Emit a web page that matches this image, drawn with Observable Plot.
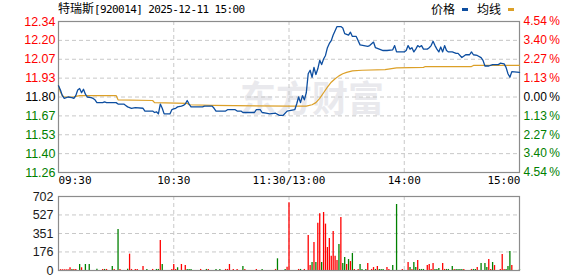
<!DOCTYPE html>
<html><head><meta charset="utf-8">
<script src="https://cdn.jsdelivr.net/npm/d3@7"></script>
<script src="https://cdn.jsdelivr.net/npm/@observablehq/plot@0.6"></script>
<style>
body{margin:0;background:#fff;}
#wrap{position:relative;width:578px;height:276px;overflow:hidden;background:#fff;}
#title{position:absolute;left:58px;top:0;height:16px;line-height:16px;font-size:12px;color:#000;white-space:nowrap;}
#title .cjk{font-family:"Noto Sans CJK SC";font-size:12px;}
#title .mono{font-family:"DejaVu Sans Mono";font-size:11px;letter-spacing:-0.6px;}
#legend{position:absolute;left:431px;top:0;height:18px;line-height:18px;font-family:"Noto Sans CJK SC";font-size:12px;color:#000;white-space:nowrap;}
#legend i{display:inline-block;width:6px;height:3px;vertical-align:middle;margin:0 9px 2px 7px;}
#wm{position:absolute;left:240px;top:78px;line-height:36px;font-family:"Noto Sans CJK SC";font-weight:700;font-size:36px;color:#e9e9ed;white-space:nowrap;}
#p1{position:absolute;left:0;top:0;}
#p2{position:absolute;left:0;top:190px;}
</style></head>
<body><div id="wrap">
<div id="wm">东方财富</div>
<div id="title"><span class="cjk">特瑞斯</span><span class="mono">[920014] 2025-12-11 15:00</span></div>
<div id="legend">价格<i style="background:#0d4ea0"></i>均线<i style="background:#dca028"></i></div>
<div id="p1"></div>
<div id="p2"></div>
</div>
<script>
const prevClose = 11.80;
const minuteTickVals = [0, 60, 120, 180, 240];
const minuteTickLabels = ["09:30", "10:30", "11:30/13:00", "14:00", "15:00"];
const priceTickVals = [12.336, 12.202, 12.068, 11.934, 11.80, 11.666, 11.532, 11.398, 11.264];
const priceTickLabels = ["12.34", "12.20", "12.07", "11.93", "11.80", "11.67", "11.53", "11.40", "11.26"];
const pctTickLabels = ["4.54", "3.40", "2.27", "1.13", "0.00", "1.13", "2.27", "3.40", "4.54"];
const volTickVals = [0, 176, 351, 527, 702];
const volTickLabels = ["0", "176", "351", "527", "702"];

const priceMin = [0,1,2,3,5,7,8,9,10,11,12,13,14,15,17,18,19,20,23,24,25,30,31,34,35,36,38,40,44,45,49,50,51,52,53,54,55,58,59,60,61,62,64,65,66,67,68,69,75,76,80,81,82,87,88,92,93,95,96,102,103,105,106,108,110,113,115,117,119,123,124,125,126,127,128,129,130,131,132,133,134,135,136,137,138,139,140,141,142,143,144,145,147,148,149,151,152,153,155,157,159,161,162,164,165,167,169,171,174,175,176,180,181,182,183,184,185,186,187,188,189,190,192,193,194,195,196,197,198,199,200,201,202,203,205,207,208,210,212,214,215,216,218,220,221,222,224,226,229,230,232,233,234,235,236,240];
const priceVal = [11.88,11.85,11.81,11.79,11.80,11.795,11.79,11.81,11.85,11.86,11.83,11.855,11.82,11.80,11.795,11.79,11.78,11.76,11.76,11.765,11.76,11.76,11.75,11.75,11.74,11.73,11.72,11.725,11.72,11.70,11.70,11.69,11.695,11.68,11.75,11.72,11.68,11.68,11.71,11.715,11.72,11.73,11.735,11.74,11.75,11.775,11.75,11.73,11.73,11.735,11.735,11.72,11.70,11.70,11.71,11.71,11.70,11.70,11.69,11.69,11.71,11.71,11.69,11.685,11.68,11.685,11.67,11.67,11.70,11.71,11.75,11.80,11.76,11.81,11.78,11.83,11.965,11.99,11.94,12.01,11.96,12.00,12.06,12.03,12.07,12.095,12.15,12.18,12.20,12.24,12.27,12.30,12.30,12.29,12.25,12.24,12.26,12.23,12.23,12.17,12.165,12.16,12.165,12.19,12.15,12.14,12.13,12.13,12.135,12.165,12.12,12.12,12.13,12.165,12.14,12.15,12.12,12.14,12.165,12.155,12.165,12.14,12.14,12.15,12.165,12.196,12.165,12.14,12.12,12.155,12.12,12.165,12.13,12.12,12.12,12.11,12.11,12.08,12.10,12.10,12.12,12.10,12.095,12.08,12.06,12.02,12.02,12.03,12.03,12.04,12.035,12.01,11.965,11.94,11.98,11.975];

const avgMin = [0,1,2,3,8,9,11,30,31,49,50,67,68,80,120,129,132,134,136,138,140,142,144,146,148,150,153,158,170,176,190,191,215,216,240];
const avgVal = [11.88,11.835,11.81,11.80,11.80,11.805,11.81,11.81,11.78,11.775,11.76,11.755,11.745,11.74,11.735,11.735,11.745,11.76,11.79,11.83,11.87,11.905,11.93,11.95,11.965,11.975,11.985,11.99,11.995,12.007,12.01,12.016,12.016,12.024,12.024];

const volMin = [1,2,3,4,5,6,7,8,9,11,12,14,16,20,23,24,25,28,29,31,32,36,37,38,40,41,44,46,49,51,52,53,54,59,60,61,62,64,66,67,68,69,74,77,78,82,84,87,88,89,91,93,96,97,103,106,113,114,118,119,120,125,126,128,130,131,132,133,134,135,136,137,138,139,140,141,142,143,144,145,146,147,148,149,150,151,152,153,154,156,157,158,160,161,163,164,165,166,167,168,169,171,172,174,176,179,182,183,184,185,186,187,188,189,190,192,193,194,195,196,197,198,200,201,202,203,205,206,207,208,209,210,211,215,216,217,218,220,222,223,224,225,226,227,230,231,232,233,234,235,236,240];
const volVal = [8,8,8,8,8,26,10,10,10,57,26,57,57,12,10,10,10,38,10,389,10,12,155,10,10,10,38,10,10,10,10,285,57,10,57,10,26,57,47,10,10,10,10,10,10,10,10,10,10,57,10,10,38,10,10,10,10,111,10,30,642,10,10,10,332,47,76,266,76,449,538,76,550,440,218,304,136,370,136,95,247,503,66,123,57,104,85,161,10,10,57,10,10,66,10,28,10,38,10,10,10,28,10,47,626,10,76,28,10,76,28,95,10,10,10,47,57,10,66,10,10,20,66,10,10,10,38,10,10,10,10,10,10,10,10,10,28,66,66,28,104,10,76,47,10,152,10,10,38,180,47,10,10];
const volUp = [1,1,1,1,1,1,0,1,1,0,1,0,0,0,1,0,1,0,1,0,1,0,1,1,1,1,1,0,1,0,0,1,0,1,1,1,0,1,1,0,0,0,1,0,1,0,0,1,1,1,1,1,0,1,1,0,1,0,0,1,1,1,0,1,1,1,0,1,0,1,1,0,1,1,1,1,1,1,1,1,0,1,0,0,1,0,1,0,1,1,0,0,0,1,1,1,0,1,0,0,0,1,1,0,0,1,1,0,1,0,0,1,0,0,0,1,1,1,1,0,0,0,1,1,0,0,0,1,0,0,0,0,1,1,0,0,1,0,0,0,1,1,0,1,1,1,1,0,0,0,1,0];

const RED = "#ff0000", GREEN = "#008000", BLACK = "#000000";
const tickColor = v => Math.abs(v - prevClose) < 1e-6 ? BLACK : (v > prevClose ? RED : GREEN);

const price = priceMin.map((m, i) => ({m, v: priceVal[i]}));
const avg = avgMin.map((m, i) => ({m, v: avgVal[i]}));
const vol = volMin.map((m, i) => ({m, v: volVal[i], c: volUp[i] ? RED : GREEN}));
const pTicks = priceTickVals.map((v, i) => ({v, label: priceTickLabels[i], pct: pctTickLabels[i] + "\u2009%", c: tickColor(v)}));
const tTicks = minuteTickVals.map((m, i) => ({m, label: minuteTickLabels[i]}));
const vTicks = volTickVals.map((v, i) => ({v, label: volTickLabels[i]}));

const common = {
  width: 578, marginLeft: 58, marginRight: 59,
  x: {domain: [0, 240], axis: null},
  color: {type: "identity"},
  style: {background: "transparent", fontFamily: "Liberation Sans, Arial, sans-serif", fontSize: "12px", overflow: "visible"}
};
const grid = {stroke: "#c8c8c8", strokeDasharray: "4,3", strokeWidth: 1};
const mono = {fontFamily: "DejaVu Sans Mono", fontSize: 11, letterSpacing: -0.6};

const p1 = Plot.plot({
  ...common,
  height: 190, marginTop: 21, marginBottom: 18,
  y: {domain: [11.264, 12.336], axis: null},
  marks: [
    Plot.ruleY(pTicks.slice(1, -1), {y: "v", ...grid}),
    Plot.ruleX(tTicks.slice(1, -1), {x: "m", ...grid}),
    Plot.frame({stroke: "#8c8c8c", strokeWidth: 1.2}),
    Plot.line(avg, {x: "m", y: "v", stroke: "#dca028", strokeWidth: 1.2}),
    Plot.line(price, {x: "m", y: "v", stroke: "#0d4ea0", strokeWidth: 1.3}),
    Plot.text(pTicks, {y: "v", text: "label", fill: "c", frameAnchor: "left", textAnchor: "end", dx: -3, fontSize: 12.5}),
    Plot.text(pTicks, {y: "v", text: "pct", fill: "c", frameAnchor: "right", textAnchor: "start", dx: 4, fontSize: 12}),
    Plot.text(tTicks.slice(0, 1), {x: "m", text: "label", frameAnchor: "bottom", textAnchor: "start", dy: 11.5, fill: "#000", ...mono}),
    Plot.text(tTicks.slice(1, -1), {x: "m", text: "label", frameAnchor: "bottom", textAnchor: "middle", dy: 11.5, fill: "#000", ...mono}),
    Plot.text(tTicks.slice(-1), {x: "m", text: "label", frameAnchor: "bottom", textAnchor: "end", dy: 11.5, dx: 1, fill: "#000", ...mono})
  ]
});
document.getElementById("p1").appendChild(p1);

const p2 = Plot.plot({
  ...common,
  height: 86, marginTop: 6, marginBottom: 6,
  y: {domain: [0, 702], axis: null},
  marks: [
    Plot.ruleY(vTicks.slice(1, -1), {y: "v", ...grid}),
    Plot.ruleX(tTicks.slice(1, -1), {x: "m", ...grid}),
    Plot.ruleX(vol, {x: "m", y1: 0, y2: "v", stroke: "c", strokeWidth: 1.3}),
    Plot.frame({stroke: "#8c8c8c", strokeWidth: 1.2}),
    Plot.text(vTicks, {y: "v", text: "label", frameAnchor: "left", textAnchor: "end", dx: -5, fill: "#1a1a1a", fontSize: 12.5})
  ]
});
document.getElementById("p2").appendChild(p2);
</script>
</body></html>
